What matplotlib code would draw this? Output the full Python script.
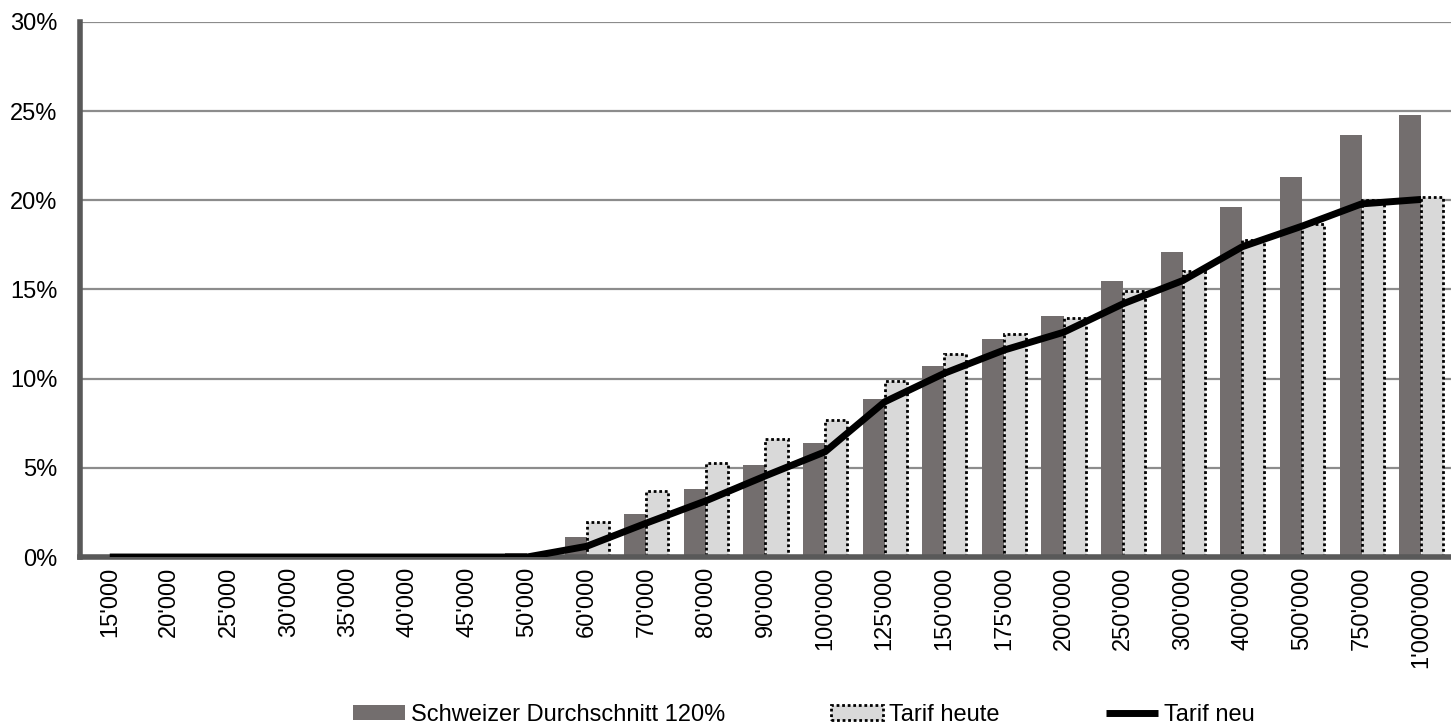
import matplotlib
matplotlib.use("Agg")
import matplotlib.pyplot as plt
import numpy as np
from matplotlib.ticker import FuncFormatter

plt.rcParams['font.family'] = ['Liberation Sans', 'DejaVu Sans']

# Taxable income brackets
categories = ["15'000", "20'000", "25'000", "30'000", "35'000", "40'000", "45'000",
              "50'000", "60'000", "70'000", "80'000", "90'000", "100'000", "125'000",
              "150'000", "175'000", "200'000", "250'000", "300'000", "400'000",
              "500'000", "750'000", "1'000'000"]

# Tax burden in percent
schweizer_durchschnitt = [0, 0, 0, 0, 0, 0, 0, 0.2, 1.1, 2.4, 3.8, 5.15, 6.4, 8.85,
                          10.7, 12.2, 13.5, 15.5, 17.1, 19.6, 21.3, 23.65, 24.8]
tarif_heute = [0, 0, 0, 0, 0, 0, 0, 0, 1.95, 3.7, 5.25, 6.6, 7.7, 9.85,
               11.4, 12.5, 13.4, 14.9, 16.05, 17.8, 18.7, 20.0, 20.2]
tarif_neu = [0, 0, 0, 0, 0, 0, 0, 0, 0.6, 1.9, 3.15, 4.55, 5.9, 8.7,
             10.3, 11.6, 12.6, 14.2, 15.5, 17.4, 18.55, 19.8, 20.05]

dark = '#736e6e'
light = '#d9d9d9'
axis_grey = '#595959'

fig = plt.figure(figsize=(14.51, 7.25), dpi=100)
ax = fig.add_axes([0.0551, 0.2317, 0.9449, 0.7380])

x = np.arange(len(categories))
w = 0.37
b1 = ax.bar(x - w / 2, schweizer_durchschnitt, width=w, color=dark, linewidth=0,
            zorder=2, label='Schweizer Durchschnitt 120%')
b2 = ax.bar(x + w / 2, tarif_heute, width=w, color=light, edgecolor='black',
            linestyle=(0, (1, 1)), linewidth=2, zorder=2, label='Tarif heute')
l1, = ax.plot(x, tarif_neu, color='black', linewidth=5, zorder=4,
              solid_capstyle='butt', label='Tarif neu')

ax.set_xlim(-0.5, len(categories) - 0.5)
ax.set_ylim(0, 30)
ax.set_yticks(np.arange(0, 31, 5))
ax.yaxis.set_major_formatter(FuncFormatter(lambda v, p: f"{v:.0f}%"))
ax.set_xticks(x)
ax.set_xticklabels(categories, rotation=90)

ax.set_axisbelow(True)
ax.yaxis.grid(True, color='#8c8c8c', linewidth=1.6)
ax.xaxis.grid(False)

for s in ('top', 'right'):
    ax.spines[s].set_visible(False)
for s in ('left', 'bottom'):
    ax.spines[s].set_color(axis_grey)
    ax.spines[s].set_linewidth(4)
    ax.spines[s].set_zorder(3)

ax.tick_params(axis='both', length=0, labelsize=17, colors='black')
ax.tick_params(axis='y', pad=16)
ax.tick_params(axis='x', pad=7)

fig.legend([b1, b2, l1], [b1.get_label(), b2.get_label(), l1.get_label()],
           loc='center', bbox_to_anchor=(0.554, 0.014), ncol=3,
           frameon=False, fontsize=17, handlelength=2.2, handleheight=0.55,
           handletextpad=0.25, columnspacing=4.5, borderaxespad=0, borderpad=0)

fig.savefig('out.png', dpi=100)
